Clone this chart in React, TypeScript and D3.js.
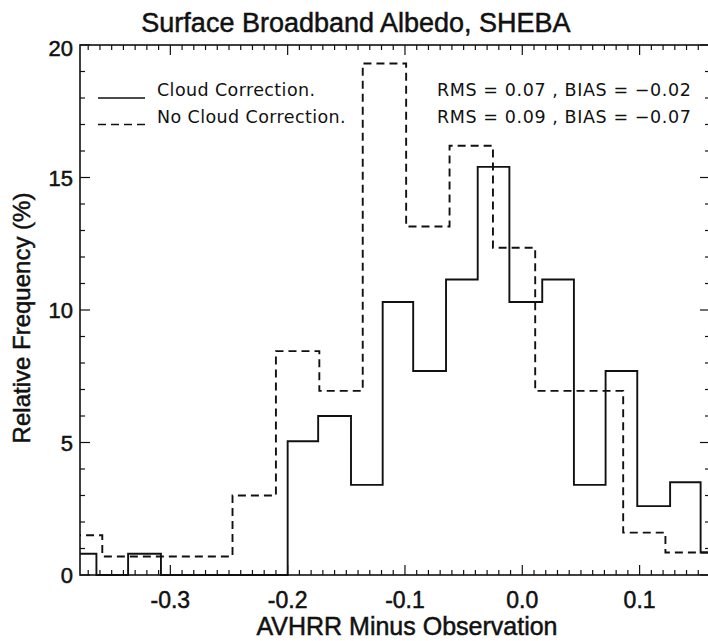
import React from 'react';
import * as d3 from 'd3';

// Solid histogram (with cloud correction): bin edges and relative frequencies (%)
const solidEdges = [-0.390, -0.363, -0.336, -0.308, -0.281, -0.254, -0.227, -0.200, -0.174, -0.146, -0.119, -0.093, -0.065, -0.038, -0.011, 0.017, 0.044, 0.071, 0.098, 0.126, 0.152, 0.180];
const solidValues = [0.8, 0, 0.8, 0, 0, 0, 0, 5.05, 6.0, 3.4, 10.3, 7.7, 11.15, 15.4, 10.3, 11.15, 3.4, 7.7, 2.6, 3.5, 0.85];

// Dashed histogram (no cloud correction)
const dashedEdges = [-0.394, -0.358, -0.321, -0.284, -0.247, -0.210, -0.173, -0.136, -0.099, -0.062, -0.025, 0.011, 0.049, 0.086, 0.122, 0.170];
const dashedValues = [1.5, 0.7, 0.7, 0.7, 3.0, 8.45, 6.95, 19.3, 13.15, 16.2, 12.35, 6.95, 6.95, 1.6, 0.85];

const xTicks = [-0.3, -0.2, -0.1, 0.0, 0.1];
const xTickLabels = ['-0.3', '-0.2', '-0.1', '0.0', '0.1'];
const yTicks = [0, 5, 10, 15, 20];
const yTickLabels = ['0', '5', '10', '15', '20'];
const legendLabels = ['Cloud Correction.', 'No Cloud Correction.'];
const legendLevels = [18, 17];
const statsLabels = ['RMS = 0.07 , BIAS = \u22120.02', 'RMS = 0.09 , BIAS = \u22120.07'];

const title = 'Surface Broadband Albedo, SHEBA';
const xTitle = 'AVHRR Minus Observation';
const yTitle = 'Relative Frequency (%)';

const W = 708;
const H = 641;
const L = 80, R = 710, T = 45, B = 575;

export default function App() {
  const x = d3.scaleLinear().domain([-0.377, 0.160]).range([L, R]);
  const y = d3.scaleLinear().domain([0, 20]).range([B, T]);

  const step = d3.line<[number, number]>()
    .x(d => x(d[0]))
    .y(d => y(d[1]))
    .curve(d3.curveStepAfter);

  const mkPts = (edges: number[], vals: number[]): [number, number][] => {
    const pts: [number, number][] = vals.map((v, i) => [edges[i], v]);
    pts.push([edges[edges.length - 1], vals[vals.length - 1]]);
    return pts;
  };

  const solidPath = step(mkPts(solidEdges, solidValues)) || '';
  const dashedPath = step(mkPts(dashedEdges, dashedValues)) || '';

  const xMinor = d3.range(-37, 17).map(k => k / 100);
  const yMinor = d3.range(0, 21);

  const font = 'Liberation Sans, Arial, Helvetica, sans-serif';
  const thinFont = 'DejaVu Sans, sans-serif';
  const ink = '#111';
  const heavy = { stroke: ink, strokeWidth: 0.5 } as const;

  return (
    <svg width={W} height={H} style={{ position: 'absolute', left: 0, top: 0, background: '#fff' }}>
      <defs>
        <clipPath id="plotClip">
          <rect x={L} y={T - 2} width={R - L} height={B - T + 4} />
        </clipPath>
      </defs>
      <rect x={0} y={0} width={W} height={H} fill="#fff" />

      {/* frame */}
      <rect x={L} y={T} width={R - L} height={B - T} fill="none" stroke={ink} strokeWidth={1.6} />

      {/* x ticks */}
      {xMinor.map((v, i) => {
        const major = Math.abs(Math.round(v * 10) - v * 10) < 1e-6;
        const len = major ? 10 : 5;
        const px = x(v);
        return (
          <g key={'xt' + i}>
            <line x1={px} x2={px} y1={B} y2={B - len} stroke={ink} strokeWidth={1.2} />
            <line x1={px} x2={px} y1={T} y2={T + len} stroke={ink} strokeWidth={1.2} />
          </g>
        );
      })}

      {/* y ticks */}
      {yMinor.map((v, i) => {
        const major = v % 5 === 0;
        const len = major ? 10 : 5;
        const py = y(v);
        return (
          <g key={'yt' + i}>
            <line x1={L} x2={L + len} y1={py} y2={py} stroke={ink} strokeWidth={1.2} />
            <line x1={R} x2={R - len} y1={py} y2={py} stroke={ink} strokeWidth={1.2} />
          </g>
        );
      })}

      {/* tick labels */}
      {xTicks.map((v, i) => (
        <text key={'xl' + i} x={x(v)} y={608} textAnchor="middle" fontFamily={font} fontSize={23} fill={ink} {...heavy}>
          {xTickLabels[i]}
        </text>
      ))}
      {yTicks.map((v, i) => (
        <text key={'yl' + i} x={73} y={y(v) + 8 + (v === 20 ? 3 : 0)} textAnchor="end" fontFamily={font} fontSize={22} fill={ink} {...heavy}>
          {yTickLabels[i]}
        </text>
      ))}

      {/* histograms */}
      <g clipPath="url(#plotClip)">
        <path d={dashedPath} fill="none" stroke={ink} strokeWidth={1.9} strokeDasharray="8,5" />
        <path d={solidPath} fill="none" stroke={ink} strokeWidth={1.9} />
      </g>

      {/* legend */}
      <line x1={98} x2={145} y1={y(legendLevels[0])} y2={y(legendLevels[0])} stroke={ink} strokeWidth={1.6} />
      <line x1={98} x2={145} y1={y(legendLevels[1])} y2={y(legendLevels[1])} stroke={ink} strokeWidth={1.6} strokeDasharray="8,5" />
      {legendLabels.map((t, i) => (
        <text key={'lg' + i} x={157} y={y(legendLevels[i]) - 2} fontFamily={thinFont} fontSize={17.5} letterSpacing={0.4} fill={ink}>
          {t}
        </text>
      ))}
      {statsLabels.map((t, i) => (
        <text key={'st' + i} x={437} y={y(legendLevels[i]) - 2} fontFamily={thinFont} fontSize={17.5} letterSpacing={0.6} fill={ink}>
          {t}
        </text>
      ))}

      {/* titles */}
      <text x={356} y={32} textAnchor="middle" fontFamily={font} fontSize={27} fill={ink} {...heavy}>{title}</text>
      <text x={407} y={635} textAnchor="middle" fontFamily={font} fontSize={25} fill={ink} {...heavy}>{xTitle}</text>
      <text transform={`translate(30, 318) rotate(-90)`} textAnchor="middle" fontFamily={font} fontSize={24} fill={ink} {...heavy}>{yTitle}</text>
    </svg>
  );
}
